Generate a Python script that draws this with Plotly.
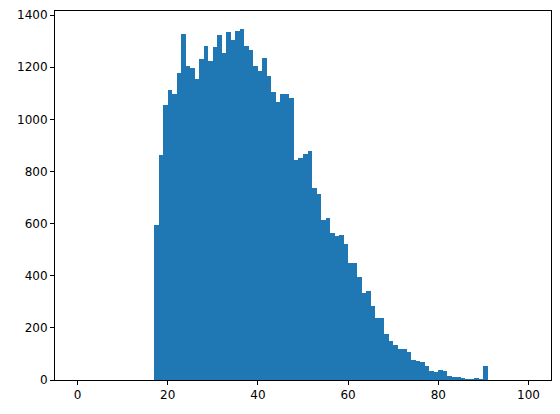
import plotly.graph_objects as go

ages = list(range(17, 91))
counts = [595, 862, 1053, 1112, 1096, 1178, 1329, 1206, 1195, 1153,
          1232, 1280, 1223, 1278, 1325, 1253, 1335, 1303, 1337, 1348,
          1280, 1264, 1206, 1187, 1235, 1165, 1104, 1067, 1096, 1097,
          1081, 845, 850, 866, 877, 738, 712, 613, 621, 564,
          551, 555, 523, 449, 450, 394, 335, 340, 284, 237,
          238, 178, 150, 133, 119, 120, 108, 77, 73, 69,
          54, 35, 32, 38, 35, 15, 12, 12, 4, 1,
          3, 5, 2, 55]
xticks = [0, 20, 40, 60, 80, 100]
yticks = [0, 200, 400, 600, 800, 1000, 1200, 1400]

fig = go.Figure(go.Bar(
    x=[a + 0.5 for a in ages], y=counts, width=1,
    marker=dict(color="#1f77b4", line=dict(width=0)),
))
axis_common = dict(showline=True, linecolor="black", linewidth=1, mirror=True,
                   ticks="outside", ticklen=4, tickcolor="black", showgrid=False,
                   zeroline=False, automargin=False,
                   tickfont=dict(family="DejaVu Sans", size=12, color="black"))
fig.update_layout(
    width=560, height=414,
    margin=dict(l=55, r=9, t=11, b=34),
    plot_bgcolor="white", paper_bgcolor="white",
    showlegend=False, bargap=0,
    xaxis=dict(range=[-5, 105], tickvals=xticks, **axis_common),
    yaxis=dict(range=[0, 1415.4], tickvals=yticks, **axis_common),
)
fig.write_html("out.html", config={"displayModeBar": False},
               post_script="document.body.style.margin='0';document.body.style.overflow='hidden';")
